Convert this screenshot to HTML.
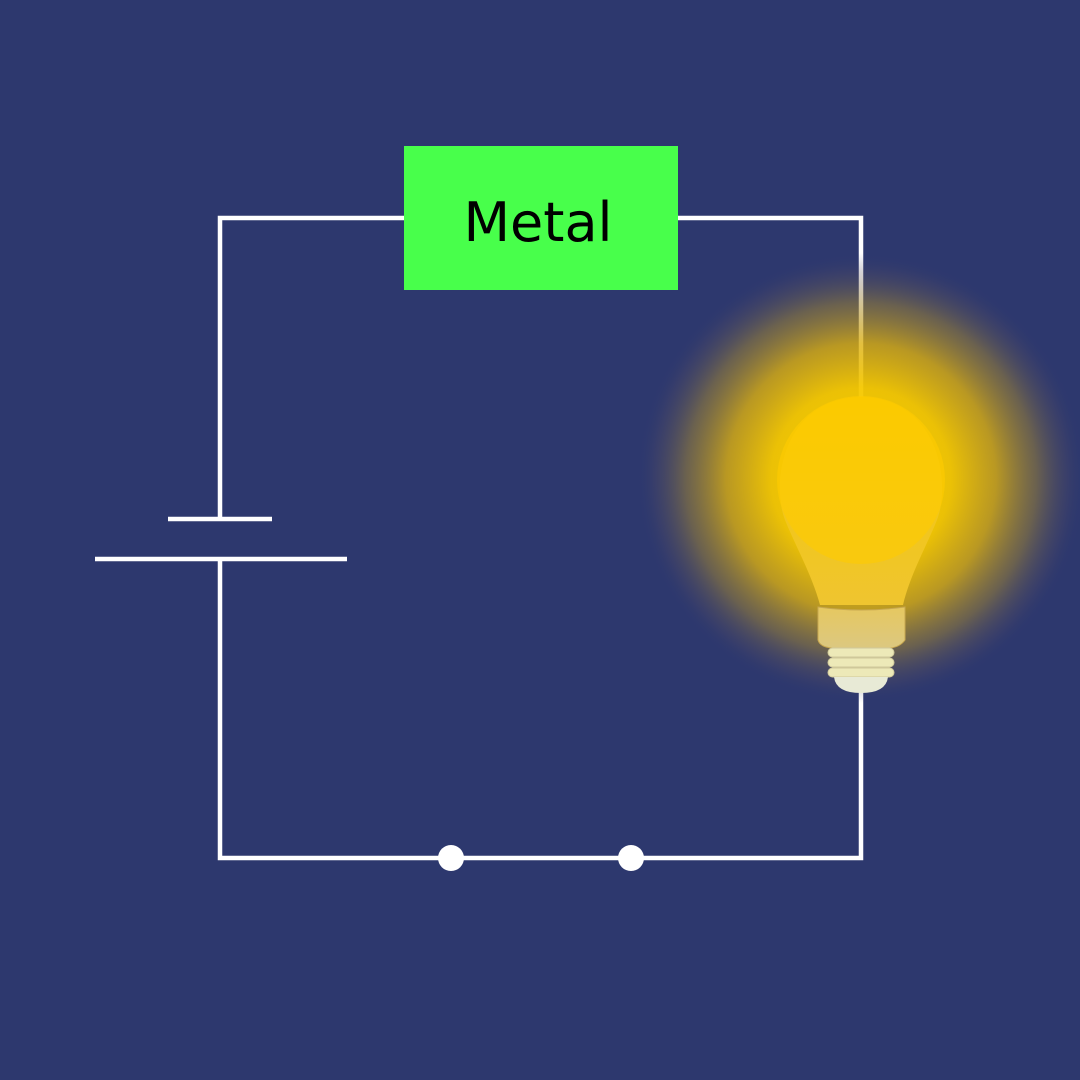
<!DOCTYPE html>
<html><head><meta charset="utf-8"><style>
html,body{margin:0;padding:0;background:#2d386e;}
svg{display:block}
</style></head><body>
<svg width="1080" height="1080" viewBox="0 0 1080 1080">
<defs>
<radialGradient id="glow" cx="861" cy="478" r="225" gradientUnits="userSpaceOnUse">
<stop offset="0" stop-color="#ffd000" stop-opacity="1"/>
<stop offset="0.4" stop-color="#f5c800" stop-opacity="0.95"/>
<stop offset="0.6" stop-color="#dcb010" stop-opacity="0.8"/>
<stop offset="0.78" stop-color="#a88a30" stop-opacity="0.5"/>
<stop offset="0.92" stop-color="#5a5060" stop-opacity="0.25"/>
<stop offset="1" stop-color="#2d386e" stop-opacity="0"/>
</radialGradient>
<linearGradient id="neck" x1="0" y1="0" x2="0" y2="1">
<stop offset="0" stop-color="#f5c800"/>
<stop offset="1" stop-color="#efc530"/>
</linearGradient>
<linearGradient id="base" x1="0" y1="0" x2="0" y2="1">
<stop offset="0" stop-color="#e6c860"/>
<stop offset="1" stop-color="#dcc880"/>
</linearGradient>
</defs>
<rect x="0" y="0" width="1080" height="1080" fill="#2d386e"/>
<g stroke="#ffffff" stroke-width="4.5" fill="none">
<polyline points="220,519 220,218 406,218"/>
<polyline points="676,218 861,218 861,400"/>
<polyline points="220,559 220,858 861,858 861,690"/>
<line x1="168" y1="519" x2="272" y2="519"/>
<line x1="95" y1="559" x2="347" y2="559"/>
</g>
<circle cx="451" cy="858" r="13" fill="#fff"/>
<circle cx="631" cy="858" r="13" fill="#fff"/>
<g>
<rect x="404" y="146" width="274" height="144" fill="#48ff4b"/>
<text x="538" y="241" text-anchor="middle" font-family="DejaVu Sans, Liberation Sans, sans-serif" font-size="54" fill="#000">Metal</text>
</g>
<g>
<circle cx="861" cy="478" r="225" fill="url(#glow)"/>
<path d="M820,605 C812,575 795,545 785,520 C770,480 785,398 861,397 C937,398 952,480 937,520 C927,545 910,575 903,605 Z" fill="url(#neck)"/>
<circle cx="861" cy="480" r="84" fill="#ffcc00" opacity="0.6"/>
<path d="M818,607 Q861,613 905,607 L905,640 Q900,647 890,648 L832,648 Q820,647 818,640 Z" fill="url(#base)" stroke="#c8a850" stroke-width="1"/>
<g fill="#ede9b8" stroke="#cfc89a" stroke-width="1">
<rect x="828" y="648" width="66" height="9" rx="4.5"/>
<rect x="828" y="658" width="66" height="9" rx="4.5"/>
<rect x="828" y="668" width="66" height="9" rx="4.5"/>
</g>
<path d="M834,677 L888,677 Q886,693 861,693 Q836,693 834,677 Z" fill="#e8ead6"/>
</g>
</svg>
</body></html>
